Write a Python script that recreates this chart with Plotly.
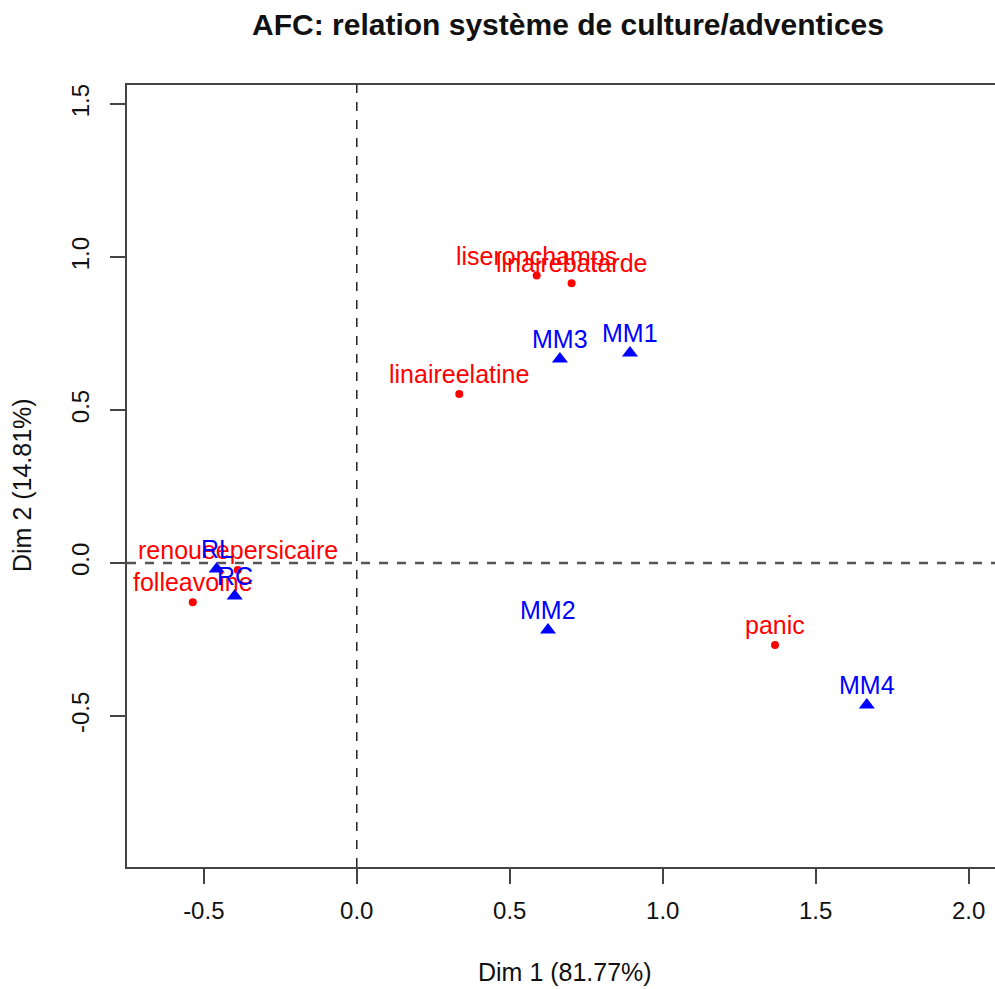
import plotly.graph_objects as go

# Column points (adventices) - red
col_labels = ["liseronchamps", "linairebatarde", "linaireelatine", "panic",
              "folleavoine", "renoueepersicaire"]
col_dim1 = [0.588, 0.702, 0.335, 1.367, -0.536, -0.389]
col_dim2 = [0.940, 0.915, 0.553, -0.268, -0.128, -0.023]

# Row points (systèmes de culture) - blue
row_labels = ["MM1", "MM2", "MM3", "MM4", "RL", "RC"]
row_dim1 = [0.893, 0.625, 0.664, 1.667, -0.458, -0.399]
row_dim2 = [0.687, -0.219, 0.667, -0.464, -0.020, -0.108]

x_ticks = [-0.5, 0.0, 0.5, 1.0, 1.5, 2.0]
y_ticks = [-0.5, 0.0, 0.5, 1.0, 1.5]

FONT = "Liberation Sans, Arial, Helvetica, sans-serif"
LBL = 25
TICK = 24

fig = go.Figure()
fig.add_trace(go.Scatter(x=col_dim1, y=col_dim2, mode="markers",
                         marker=dict(symbol="circle", size=8, color="#FF0000"),
                         hoverinfo="text", text=col_labels, showlegend=False))
fig.add_trace(go.Scatter(x=row_dim1, y=row_dim2, mode="markers",
                         marker=dict(symbol="triangle-up", size=14, color="#0000FF"),
                         hoverinfo="text", text=row_labels, showlegend=False))

annotations = []
for lab, xv, yv in zip(col_labels, col_dim1, col_dim2):
    annotations.append(dict(x=xv, y=yv, xref="x", yref="y", text=lab, showarrow=False,
                            yshift=20, font=dict(family=FONT, size=LBL, color="#FF0000")))
for lab, xv, yv in zip(row_labels, row_dim1, row_dim2):
    annotations.append(dict(x=xv, y=yv, xref="x", yref="y", text=lab, showarrow=False,
                            yshift=20, font=dict(family=FONT, size=LBL, color="#0000FF")))

pl, pr, pt, pb = 127, 995, 85, 867
def px_to_paper_x(px):
    return (px - pl) / (pr - pl)
def px_to_paper_y(py):
    return (pb - py) / (pb - pt)

annotations.append(dict(x=px_to_paper_x(565), y=px_to_paper_y(972), xref="paper", yref="paper",
                        text="Dim 1 (81.77%)", showarrow=False, xanchor="center", yanchor="middle",
                        font=dict(family=FONT, size=LBL, color="#111111")))
annotations.append(dict(x=px_to_paper_x(22), y=px_to_paper_y(485), xref="paper", yref="paper",
                        text="Dim 2 (14.81%)", showarrow=False, xanchor="center", yanchor="middle",
                        textangle=-90,
                        font=dict(family=FONT, size=LBL, color="#111111")))

fig.update_layout(
    width=995, height=989,
    margin=dict(l=pl, r=0, t=pt, b=989 - pb),
    plot_bgcolor="white", paper_bgcolor="white",
    title=dict(text="<b>AFC: relation système de culture/adventices</b>",
               x=568 / 995, xanchor="center", y=1 - 24 / 989, yanchor="middle",
               xref="container", yref="container",
               font=dict(family=FONT, size=30, color="#111111")),
    xaxis=dict(range=[-0.751, 2.086], tickvals=x_ticks,
               ticktext=[f"{v:.1f}" for v in x_ticks],
               showgrid=False, zeroline=False, showline=True, linecolor="#444444",
               linewidth=2, mirror=True, ticks="outside", ticklen=15, tickwidth=2,
               tickcolor="#444444", ticklabelstandoff=6,
               tickfont=dict(family=FONT, size=TICK, color="#111111")),
    yaxis=dict(range=[-0.994, 1.563], tickvals=y_ticks,
               ticktext=[f"{v:.1f}" for v in y_ticks],
               showgrid=False, zeroline=False, showline=True, linecolor="#444444",
               linewidth=2, mirror=False, ticks="outside", ticklen=15, tickwidth=2,
               tickcolor="#444444", tickangle=-90, ticklabelstandoff=11,
               tickfont=dict(family=FONT, size=TICK, color="#111111")),
    shapes=[
        dict(type="line", xref="x", yref="paper", x0=0, x1=0, y0=0, y1=1,
             line=dict(color="#222222", width=1.5, dash="dash")),
        dict(type="line", xref="paper", yref="y", x0=0, x1=1, y0=0, y1=0,
             line=dict(color="#555555", width=2.5, dash="dash")),
    ],
    annotations=annotations,
)

fig.write_html("out.html", config={"displayModeBar": False},
               post_script="document.body.style.margin='0';document.body.style.overflow='hidden';")
